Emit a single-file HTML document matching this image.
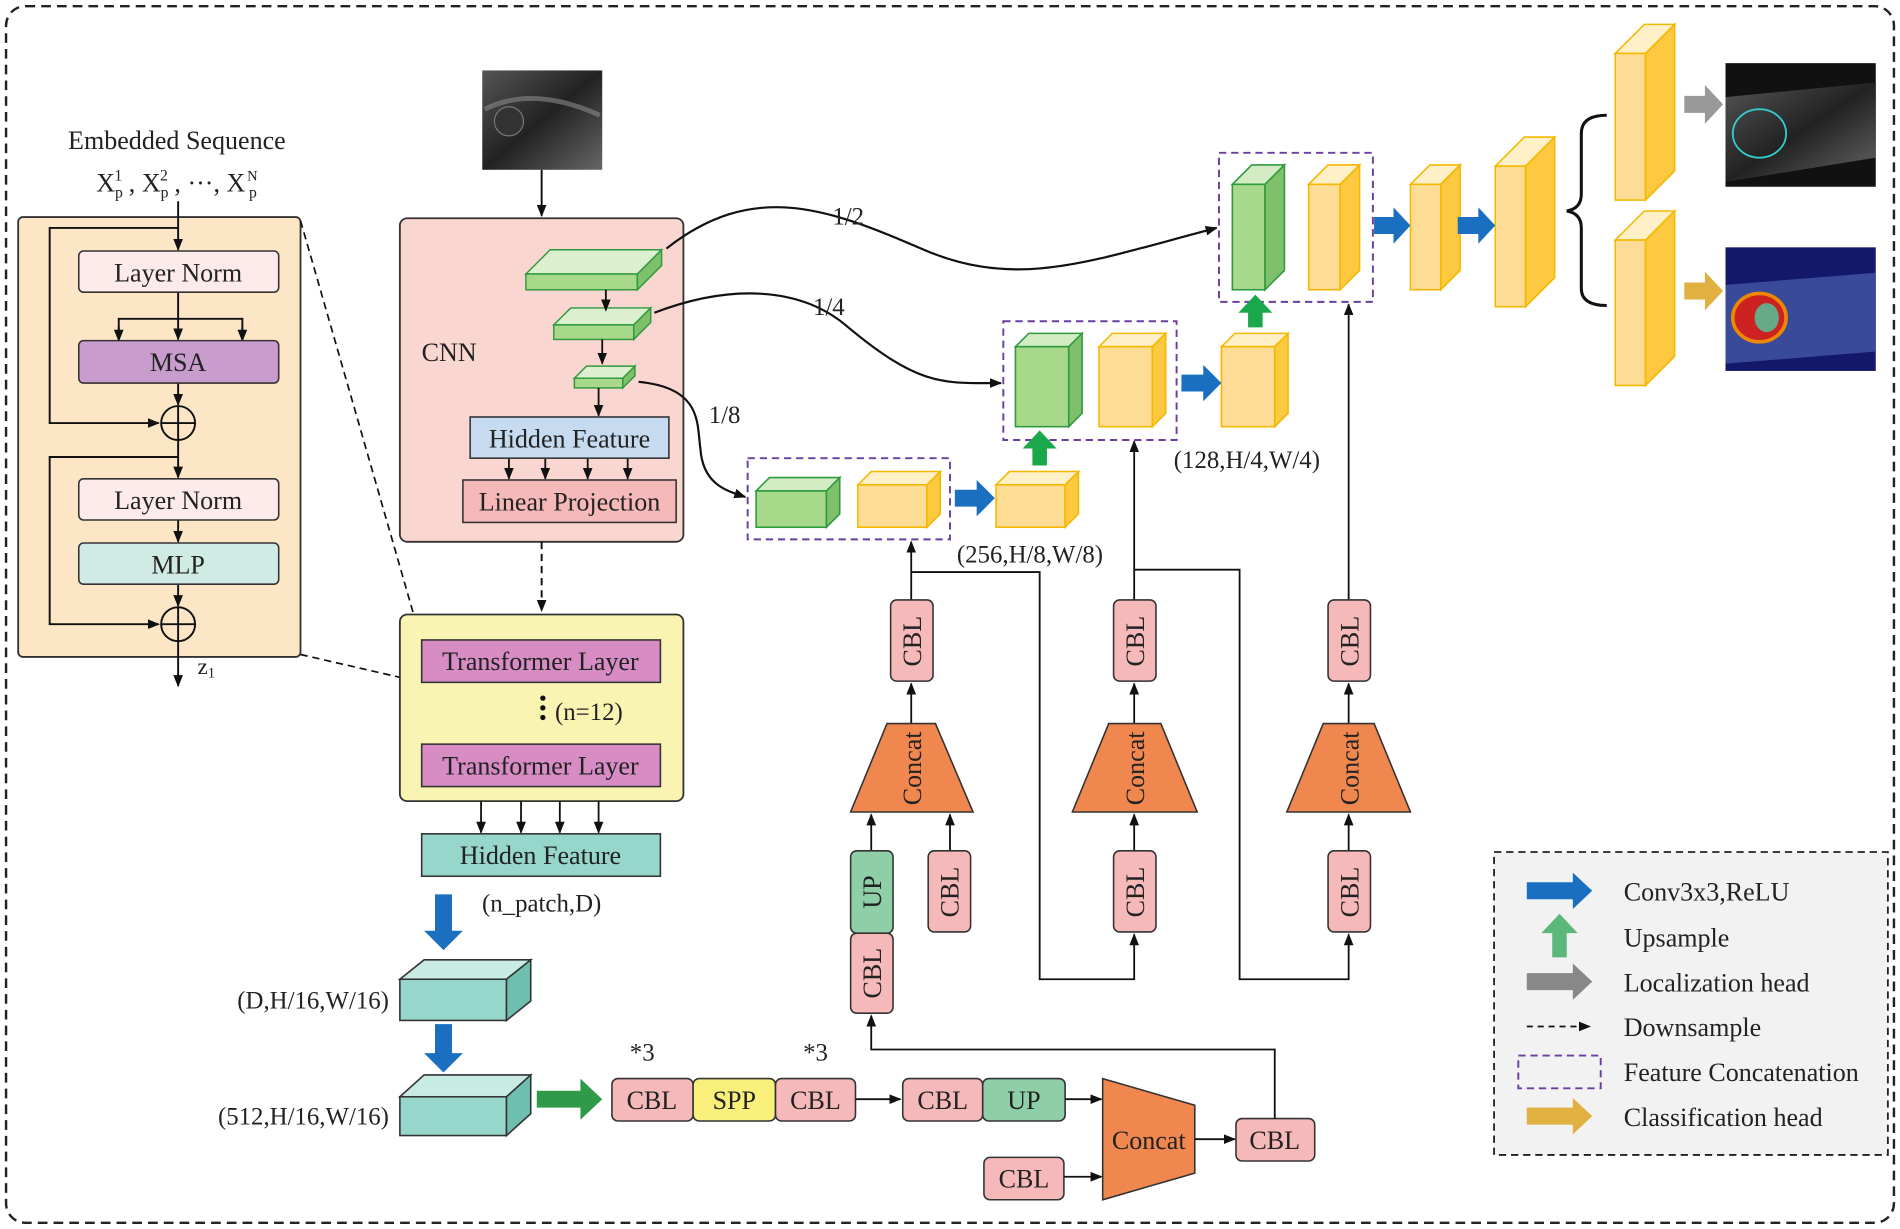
<!DOCTYPE html>
<html><head><meta charset="utf-8"><style>
html,body{margin:0;padding:0;background:#fff}
svg{display:block}
text{font-family:"Liberation Serif",serif;fill:#222}
</style></head><body>
<svg width="1900" height="1229" viewBox="0 0 1568 1014" xmlns="http://www.w3.org/2000/svg">
<defs>
<marker id="ah" markerWidth="10" markerHeight="10" refX="9" refY="5" orient="auto" markerUnits="userSpaceOnUse"><path d="M0,1 L10,5 L0,9 z" fill="#111"/></marker>
<linearGradient id="us" x1="0" y1="0" x2="1" y2="1"><stop offset="0" stop-color="#555"/><stop offset="0.5" stop-color="#222"/><stop offset="1" stop-color="#666"/></linearGradient>
</defs>
<rect x="5" y="5" width="1558" height="1004" rx="16" fill="#fff" stroke="#222" stroke-width="2" stroke-dasharray="8,5"/>

<!-- left panel -->
<text x="146" y="123" font-size="21.5" text-anchor="middle">Embedded Sequence</text>
<text x="146" y="158" font-size="21.5" text-anchor="middle">X<tspan font-size="13" dy="5">p</tspan><tspan font-size="13" dx="-7" dy="-14">1</tspan><tspan dy="9"> , X</tspan><tspan font-size="13" dy="5">p</tspan><tspan font-size="13" dx="-7" dy="-14">2</tspan><tspan dy="9"> , ···, X</tspan><tspan font-size="13" dx="3" dy="5">p</tspan><tspan font-size="12" dx="-8" dy="-14">N</tspan></text>
<rect x="15" y="179" width="233" height="363" rx="4" fill="#fce6c6" stroke="#333" stroke-width="1.5"/>
<g stroke="#111" stroke-width="1.6" fill="none">
<line x1="147" y1="166" x2="147" y2="206" marker-end="url(#ah)"/>
<polyline points="147,188 41,188 41,349 131,349" marker-end="url(#ah)"/>
<line x1="147" y1="241" x2="147" y2="280" marker-end="url(#ah)"/>
<polyline points="98,280 98,263 200,263 200,280"/>
<line x1="98" y1="270" x2="98" y2="281" marker-end="url(#ah)"/>
<line x1="200" y1="270" x2="200" y2="281" marker-end="url(#ah)"/>
<line x1="147" y1="316" x2="147" y2="334" marker-end="url(#ah)"/>
<line x1="147" y1="363" x2="147" y2="394" marker-end="url(#ah)"/>
<polyline points="147,377 41,377 41,515 131,515" marker-end="url(#ah)"/>
<line x1="147" y1="429" x2="147" y2="447" marker-end="url(#ah)"/>
<line x1="147" y1="482" x2="147" y2="500" marker-end="url(#ah)"/>
<line x1="147" y1="529" x2="147" y2="566" marker-end="url(#ah)"/>
<circle cx="147" cy="349" r="14" fill="#fce6c6"/>
<circle cx="147" cy="515" r="14" fill="#fce6c6"/>
<path d="M133,349h28M147,335v28M133,515h28M147,501v28"/>
</g>
<rect x="65" y="207" width="165" height="34" rx="4" fill="#fdeaea" stroke="#333" stroke-width="1.3"/>
<text x="147" y="232" font-size="21.5" text-anchor="middle">Layer Norm</text>
<rect x="65" y="281" width="165" height="35" rx="4" fill="#c89ccc" stroke="#333" stroke-width="1.3"/>
<text x="147" y="306" font-size="21.5" text-anchor="middle">MSA</text>
<rect x="65" y="395" width="165" height="34" rx="4" fill="#fdeaea" stroke="#333" stroke-width="1.3"/>
<text x="147" y="420" font-size="21.5" text-anchor="middle">Layer Norm</text>
<rect x="65" y="448" width="165" height="34" rx="4" fill="#d0eae4" stroke="#333" stroke-width="1.3"/>
<text x="147" y="473" font-size="21.5" text-anchor="middle">MLP</text>
<text x="163" y="556" font-size="19">z<tspan font-size="12" dy="3">1</tspan></text>
<g stroke="#111" stroke-width="1.4" stroke-dasharray="6,4"><line x1="248" y1="182" x2="348" y2="530"/><line x1="248" y1="540" x2="348" y2="563"/></g>

<!-- input image -->
<rect x="398" y="58" width="99" height="82" fill="url(#us)"/>
<path d="M400,90 Q440,70 495,95" stroke="#888" stroke-width="4" fill="none" opacity="0.6"/>
<circle cx="420" cy="100" r="12" fill="#333" stroke="#777"/>
<line x1="447" y1="140" x2="447" y2="178" stroke="#111" stroke-width="1.6" marker-end="url(#ah)"/>

<!-- CNN -->
<rect x="330" y="180" width="234" height="267" rx="6" fill="#fad6d0" stroke="#333" stroke-width="1.5"/>
<text x="348" y="298" font-size="21.5">CNN</text>
<g stroke="#2e9a3e" stroke-width="1.2">
<polygon points="434,226 454,206 546,206 526,226" fill="#dcf0cf"/><rect x="434" y="226" width="92" height="13" fill="#a8d88a"/><polygon points="526,226 546,206 546,219 526,239" fill="#7fc06a"/>
<polygon points="457,268 471,254 537,254 523,268" fill="#dcf0cf"/><rect x="457" y="268" width="66" height="12" fill="#a8d88a"/><polygon points="523,268 537,254 537,266 523,280" fill="#7fc06a"/>
<polygon points="474,312 484,302 524,302 514,312" fill="#dcf0cf"/><rect x="474" y="312" width="40" height="8" fill="#a8d88a"/><polygon points="514,312 524,302 524,310 514,320" fill="#7fc06a"/>
</g>
<g stroke="#111" stroke-width="1.5" fill="none">
<line x1="500" y1="239" x2="500" y2="256" marker-end="url(#ah)"/>
<line x1="497" y1="280" x2="497" y2="300" marker-end="url(#ah)"/>
<line x1="494" y1="320" x2="494" y2="343" marker-end="url(#ah)"/>
<line x1="420" y1="378" x2="420" y2="395" marker-end="url(#ah)"/>
<line x1="450" y1="378" x2="450" y2="395" marker-end="url(#ah)"/>
<line x1="485" y1="378" x2="485" y2="395" marker-end="url(#ah)"/>
<line x1="518" y1="378" x2="518" y2="395" marker-end="url(#ah)"/>
</g>
<rect x="388" y="344" width="164" height="34" fill="#c6daf0" stroke="#333" stroke-width="1.3"/>
<text x="470" y="369" font-size="21.5" text-anchor="middle">Hidden Feature</text>
<rect x="382" y="396" width="176" height="35" fill="#f6b9b9" stroke="#333" stroke-width="1.3"/>
<text x="470" y="421" font-size="21.5" text-anchor="middle">Linear Projection</text>
<line x1="447" y1="447" x2="447" y2="504" stroke="#111" stroke-width="1.6" stroke-dasharray="6,4" marker-end="url(#ah)"/>

<!-- transformer -->
<rect x="330" y="507" width="234" height="154" rx="6" fill="#faf4b2" stroke="#333" stroke-width="1.5"/>
<rect x="348" y="528" width="197" height="35" fill="#d78dc4" stroke="#333" stroke-width="1.3"/>
<text x="446" y="553" font-size="21.5" text-anchor="middle">Transformer Layer</text>
<circle cx="448" cy="576" r="2.2" fill="#111"/><circle cx="448" cy="584" r="2.2" fill="#111"/><circle cx="448" cy="592" r="2.2" fill="#111"/>
<text x="458" y="594" font-size="20.5">(n=12)</text>
<rect x="348" y="614" width="197" height="35" fill="#d78dc4" stroke="#333" stroke-width="1.3"/>
<text x="446" y="639" font-size="21.5" text-anchor="middle">Transformer Layer</text>
<g stroke="#111" stroke-width="1.5"><line x1="397" y1="661" x2="397" y2="687" marker-end="url(#ah)"/><line x1="430" y1="661" x2="430" y2="687" marker-end="url(#ah)"/><line x1="462" y1="661" x2="462" y2="687" marker-end="url(#ah)"/><line x1="494" y1="661" x2="494" y2="687" marker-end="url(#ah)"/></g>
<rect x="348" y="688" width="197" height="35" fill="#97d6ca" stroke="#333" stroke-width="1.3"/>
<text x="446" y="713" font-size="21.5" text-anchor="middle">Hidden Feature</text>
<text x="447" y="752" font-size="20.5" text-anchor="middle">(n_patch,D)</text>
<polygon points="359,738 373,738 373,768 382,768 366,784 350,768 359,768" fill="#1a6fc0"/>
<polygon points="359,845 373,845 373,869 382,869 366,885 350,869 359,869" fill="#1a6fc0"/>
<g stroke="#333" stroke-width="1.3">
<polygon points="330,808 350,792 438,792 418,808" fill="#c8ebe4"/><rect x="330" y="808" width="88" height="34" fill="#97d6ca"/><polygon points="418,808 438,792 438,826 418,842" fill="#6fbfb0"/>
<polygon points="330,905 350,887 438,887 418,905" fill="#c8ebe4"/><rect x="330" y="905" width="88" height="32" fill="#97d6ca"/><polygon points="418,905 438,887 438,919 418,937" fill="#6fbfb0"/>
</g>
<text x="321" y="832" font-size="20.5" text-anchor="end">(D,H/16,W/16)</text>
<text x="321" y="928" font-size="20.5" text-anchor="end">(512,H/16,W/16)</text>
<polygon points="443,900 479,900 479,890 497,907 479,924 479,914 443,914" fill="#2e9a4a"/>

<!-- bottom row -->
<g stroke="#333" stroke-width="1.3">
<rect x="505" y="890" width="67" height="35" rx="5" fill="#f6b9b9"/>
<rect x="572" y="890" width="68" height="35" rx="5" fill="#f8f07a"/>
<rect x="640" y="890" width="66" height="35" rx="5" fill="#f6b9b9"/>
<rect x="745" y="890" width="66" height="35" rx="5" fill="#f6b9b9"/>
<rect x="811" y="890" width="68" height="35" rx="5" fill="#8fcfa8"/>
<rect x="812" y="955" width="66" height="35" rx="5" fill="#f6b9b9"/>
<rect x="1020" y="923" width="65" height="35" rx="5" fill="#f6b9b9"/>
<polygon points="910,890 986,912 986,968 910,990" fill="#f0874f"/>
</g>
<g font-size="21.5" text-anchor="middle">
<text x="538" y="915">CBL</text>
<text x="606" y="915">SPP</text>
<text x="673" y="915">CBL</text>
<text x="778" y="915">CBL</text>
<text x="845" y="915">UP</text>
<text x="845" y="980">CBL</text>
<text x="1052" y="948">CBL</text>
<text x="948" y="948">Concat</text>
</g>
<text x="530" y="875" font-size="20.5" text-anchor="middle">*3</text>
<text x="673" y="875" font-size="20.5" text-anchor="middle">*3</text>
<g stroke="#111" stroke-width="1.5" fill="none">
<line x1="706" y1="907" x2="743" y2="907" marker-end="url(#ah)"/>
<line x1="879" y1="907" x2="909" y2="907" marker-end="url(#ah)"/>
<line x1="878" y1="971" x2="909" y2="971" marker-end="url(#ah)"/>
<line x1="986" y1="940" x2="1019" y2="940" marker-end="url(#ah)"/>
<polyline points="1052,923 1052,866 719,866 719,838" marker-end="url(#ah)"/>
<line x1="719" y1="702" x2="719" y2="672" marker-end="url(#ah)"/>
<line x1="784" y1="702" x2="784" y2="672" marker-end="url(#ah)"/>
<line x1="752" y1="597" x2="752" y2="564" marker-end="url(#ah)"/>
<line x1="752" y1="495" x2="752" y2="447" marker-end="url(#ah)"/>
<polyline points="752,472 858,472 858,808 936,808 936,771" marker-end="url(#ah)"/>
<line x1="936" y1="702" x2="936" y2="672" marker-end="url(#ah)"/>
<line x1="936" y1="597" x2="936" y2="564" marker-end="url(#ah)"/>
<line x1="936" y1="495" x2="936" y2="364" marker-end="url(#ah)"/>
<polyline points="936,470 1023,470 1023,808 1113,808 1113,771" marker-end="url(#ah)"/>
<line x1="1113" y1="702" x2="1113" y2="672" marker-end="url(#ah)"/>
<line x1="1113" y1="597" x2="1113" y2="564" marker-end="url(#ah)"/>
<line x1="1113" y1="495" x2="1113" y2="251" marker-end="url(#ah)"/>
</g>
<g stroke="#333" stroke-width="1.3">
<rect x="702" y="770" width="35" height="66" rx="5" fill="#f6b9b9"/>
<rect x="702" y="702" width="35" height="68" rx="5" fill="#8fcfa8"/>
<rect x="766" y="702" width="35" height="67" rx="5" fill="#f6b9b9"/>
<rect x="735" y="495" width="35" height="67" rx="5" fill="#f6b9b9"/>
<polygon points="702,670 803,670 772,597 732,597" fill="#f0874f"/>
<rect x="919" y="702" width="35" height="67" rx="5" fill="#f6b9b9"/>
<rect x="919" y="495" width="35" height="67" rx="5" fill="#f6b9b9"/>
<polygon points="885,670 988,670 958,597 915,597" fill="#f0874f"/>
<rect x="1096" y="702" width="35" height="67" rx="5" fill="#f6b9b9"/>
<rect x="1096" y="495" width="35" height="67" rx="5" fill="#f6b9b9"/>
<polygon points="1062,670 1164,670 1134,597 1092,597" fill="#f0874f"/>
</g>
<g font-size="21.5" text-anchor="middle">
<text transform="translate(727,803) rotate(-90)">CBL</text>
<text transform="translate(727,736) rotate(-90)">UP</text>
<text transform="translate(791,736) rotate(-90)">CBL</text>
<text transform="translate(760,529) rotate(-90)">CBL</text>
<text transform="translate(760,634) rotate(-90)">Concat</text>
<text transform="translate(944,736) rotate(-90)">CBL</text>
<text transform="translate(944,529) rotate(-90)">CBL</text>
<text transform="translate(944,634) rotate(-90)">Concat</text>
<text transform="translate(1121,736) rotate(-90)">CBL</text>
<text transform="translate(1121,529) rotate(-90)">CBL</text>
<text transform="translate(1121,634) rotate(-90)">Concat</text>
</g>

<!-- curves -->
<g stroke="#111" stroke-width="1.8" fill="none">
<path d="M550,205 C620,150 680,170 760,205 C840,240 900,215 1004,188" marker-end="url(#ah)"/>
<path d="M540,258 C600,235 660,235 700,270 C760,320 780,316 826,316" marker-end="url(#ah)"/>
<path d="M527,315 C580,320 575,350 578,370 C580,400 600,405 615,410" marker-end="url(#ah)"/>
</g>
<text x="700" y="185" font-size="20.5" text-anchor="middle">1/2</text>
<text x="684" y="260" font-size="20.5" text-anchor="middle">1/4</text>
<text x="598" y="349" font-size="20.5" text-anchor="middle">1/8</text>

<!-- dashed concat boxes -->
<g stroke="#6b3fa0" stroke-width="1.6" fill="none" stroke-dasharray="6,4">
<rect x="617" y="378" width="167" height="67"/>
<rect x="828" y="265" width="143" height="98"/>
<rect x="1006" y="126" width="127" height="123"/>
</g>
<g stroke="#2e9a3e" stroke-width="1.3">
<polygon points="624,405 635,394 693,394 682,405" fill="#d4ecc4"/><rect x="624" y="405" width="58" height="30" fill="#a8d88a"/><polygon points="682,405 693,394 693,424 682,435" fill="#7fc06a"/>
<polygon points="838,286 849,275 893,275 882,286" fill="#d4ecc4"/><rect x="838" y="286" width="44" height="66" fill="#a8d88a"/><polygon points="882,286 893,275 893,341 882,352" fill="#7fc06a"/>
<polygon points="1017,152 1033,136 1060,136 1044,152" fill="#d4ecc4"/><rect x="1017" y="152" width="27" height="87" fill="#a8d88a"/><polygon points="1044,152 1060,136 1060,223 1044,239" fill="#7fc06a"/>
</g>
<g stroke="#f5b800" stroke-width="1.3">
<polygon points="708,400 719,389 776,389 765,400" fill="#fff0c8"/><rect x="708" y="400" width="57" height="35" fill="#fddc96"/><polygon points="765,400 776,389 776,424 765,435" fill="#fcc940"/>
<polygon points="822,400 833,389 890,389 879,400" fill="#fff0c8"/><rect x="822" y="400" width="57" height="35" fill="#fddc96"/><polygon points="879,400 890,389 890,424 879,435" fill="#fcc940"/>
<polygon points="907,286 918,275 962,275 951,286" fill="#fff0c8"/><rect x="907" y="286" width="44" height="66" fill="#fddc96"/><polygon points="951,286 962,275 962,341 951,352" fill="#fcc940"/>
<polygon points="1008,286 1019,275 1063,275 1052,286" fill="#fff0c8"/><rect x="1008" y="286" width="44" height="66" fill="#fddc96"/><polygon points="1052,286 1063,275 1063,341 1052,352" fill="#fcc940"/>
<polygon points="1080,152 1096,136 1122,136 1106,152" fill="#fff0c8"/><rect x="1080" y="152" width="26" height="87" fill="#fddc96"/><polygon points="1106,152 1122,136 1122,223 1106,239" fill="#fcc940"/>
<polygon points="1164,152 1180,136 1205,136 1189,152" fill="#fff0c8"/><rect x="1164" y="152" width="25" height="87" fill="#fddc96"/><polygon points="1189,152 1205,136 1205,223 1189,239" fill="#fcc940"/>
<polygon points="1234,137 1258,113 1283,113 1259,137" fill="#fff0c8"/><rect x="1234" y="137" width="25" height="116" fill="#fddc96"/><polygon points="1259,137 1283,113 1283,229 1259,253" fill="#fcc940"/>
<polygon points="1333,44 1357,20 1382,20 1358,44" fill="#fff0c8"/><rect x="1333" y="44" width="25" height="121" fill="#fddc96"/><polygon points="1358,44 1382,20 1382,141 1358,165" fill="#fcc940"/>
<polygon points="1333,198 1357,174 1382,174 1358,198" fill="#fff0c8"/><rect x="1333" y="198" width="25" height="120" fill="#fddc96"/><polygon points="1358,198 1382,174 1382,294 1358,318" fill="#fcc940"/>
</g>
<text x="850" y="464" font-size="20.5" text-anchor="middle">(256,H/8,W/8)</text>
<text x="1029" y="386" font-size="20.5" text-anchor="middle">(128,H/4,W/4)</text>
<g fill="#1a6fc0">
<polygon points="788,404 806,404 806,396 821,411 806,426 806,418 788,418"/>
<polygon points="975,309 993,309 993,301 1008,316 993,331 993,323 975,323"/>
<polygon points="1134,179 1150,179 1150,171 1164,186 1150,201 1150,193 1134,193"/>
<polygon points="1203,179 1220,179 1220,171 1234,186 1220,201 1220,193 1203,193"/>
</g>
<g fill="#1aa84a">
<polygon points="852,384 864,384 864,370 872,370 858,355 844,370 852,370"/>
<polygon points="1030,270 1042,270 1042,258 1050,258 1036,243 1022,258 1030,258"/>
</g>
<polygon points="1390,79 1407,79 1407,70 1422,86 1407,102 1407,93 1390,93" fill="#999"/>
<polygon points="1390,233 1407,233 1407,224 1422,240 1407,256 1407,247 1390,247" fill="#e0b040"/>
<path d="M1326,95 Q1305,95 1305,110 L1305,160 Q1305,172 1293,174 Q1305,176 1305,188 L1305,238 Q1305,252 1326,252" stroke="#111" stroke-width="2.5" fill="none"/>
<rect x="1424" y="52" width="124" height="102" fill="#111"/>
<polygon points="1424,80 1548,68 1548,130 1424,150" fill="url(#us)"/>
<ellipse cx="1452" cy="110" rx="22" ry="20" fill="none" stroke="#3cc" stroke-width="1.5"/>
<rect x="1424" y="204" width="124" height="102" fill="#14186a"/>
<polygon points="1424,235 1548,225 1548,290 1424,300" fill="#3a4a9a"/>
<ellipse cx="1452" cy="262" rx="22" ry="20" fill="#c22" stroke="#e80" stroke-width="3"/>
<ellipse cx="1458" cy="262" rx="10" ry="12" fill="#6a8"/>

<!-- legend -->
<rect x="1233" y="703" width="325" height="250" fill="#f2f2f2" stroke="#222" stroke-width="1.5" stroke-dasharray="6,4"/>
<polygon points="1260,728 1298,728 1298,720 1314,735 1298,750 1298,742 1260,742" fill="#1a6fc0"/>
<polygon points="1281,790 1293,790 1293,770 1302,770 1287,754 1272,770 1281,770" fill="#5cb87a"/>
<polygon points="1260,803 1298,803 1298,795 1314,810 1298,825 1298,817 1260,817" fill="#888"/>
<line x1="1260" y1="847" x2="1312" y2="847" stroke="#111" stroke-width="1.5" stroke-dasharray="5,4" marker-end="url(#ah)"/>
<rect x="1253" y="871" width="68" height="27" fill="none" stroke="#6b3fa0" stroke-width="1.6" stroke-dasharray="6,4"/>
<polygon points="1260,914 1298,914 1298,906 1314,921 1298,936 1298,928 1260,928" fill="#e0b040"/>
<g font-size="21.5"><text x="1340" y="743">Conv3x3,ReLU</text><text x="1340" y="781">Upsample</text><text x="1340" y="818">Localization head</text><text x="1340" y="855">Downsample</text><text x="1340" y="892">Feature Concatenation</text><text x="1340" y="929">Classification head</text></g>
</svg>
</body></html>
